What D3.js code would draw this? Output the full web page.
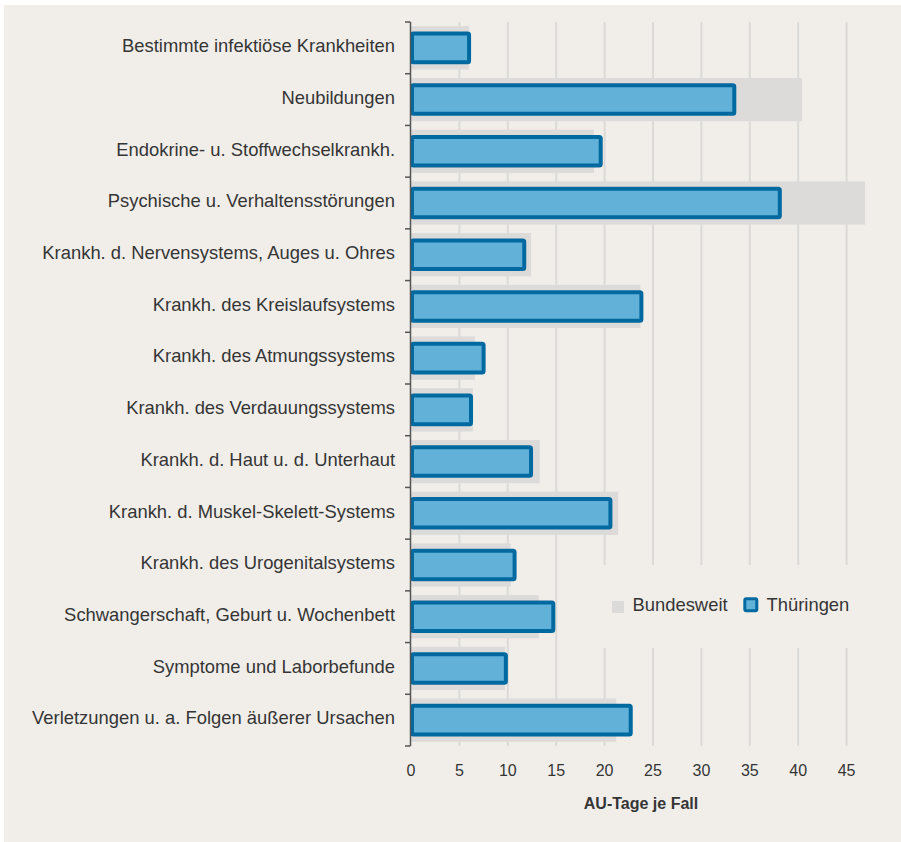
<!DOCTYPE html>
<html>
<head>
<meta charset="utf-8">
<script src="https://cdn.jsdelivr.net/npm/d3@7"></script>
<style>
    body { margin: 0; background: #ffffff; }
    text { font-family: "Liberation Sans", Arial, sans-serif; fill: #353535; }
</style>
</head>
<body>
<div id="graph1"></div>
<script>
// categories (top to bottom)
let categories = [
    "Bestimmte infektiöse Krankheiten",
    "Neubildungen",
    "Endokrine- u. Stoffwechselkrankh.",
    "Psychische u. Verhaltensstörungen",
    "Krankh. d. Nervensystems, Auges u. Ohres",
    "Krankh. des Kreislaufsystems",
    "Krankh. des Atmungssystems",
    "Krankh. des Verdauungssystems",
    "Krankh. d. Haut u. d. Unterhaut",
    "Krankh. d. Muskel-Skelett-Systems",
    "Krankh. des Urogenitalsystems",
    "Schwangerschaft, Geburt u. Wochenbett",
    "Symptome und Laborbefunde",
    "Verletzungen u. a. Folgen äußerer Ursachen"
];

// AU-Tage je Fall
let bundesweit = [6.0, 40.4, 18.9, 46.9, 12.4, 23.7, 6.6, 6.4, 13.3, 21.4, 10.3, 13.2, 9.7, 21.2];
let thueringen = [6.0, 33.4, 19.6, 38.1, 11.7, 23.8, 7.5, 6.2, 12.4, 20.6, 10.7, 14.7, 9.8, 22.7];

let xTicks = [0, 5, 10, 15, 20, 25, 30, 35, 40, 45];
let seriesNames = ["Bundesweit", "Thüringen"];

(function () {
    let width = 901,
        height = 842;

    let svg = d3.select("#graph1")
        .append("svg")
        .attr("width", width)
        .attr("height", height);

    // beige panel
    svg.append("rect")
        .attr("x", 4)
        .attr("y", 5)
        .attr("width", width - 4)
        .attr("height", height - 5)
        .attr("fill", "#f1eeea");

    // x linear scale
    let x = d3.scaleLinear()
        .domain([0, 45])
        .range([411, 846.6]);

    // y band scale
    let y = d3.scaleBand()
        .domain(categories)
        .range([22, 746]);

    let step = y.step();

    // vertical grid lines
    svg.append("g")
        .selectAll("line")
        .data(xTicks.filter(d => d > 0))
        .enter()
        .append("line")
        .attr("x1", d => x(d))
        .attr("x2", d => x(d))
        .attr("y1", 22)
        .attr("y2", 746)
        .attr("stroke", "#dcdad6")
        .attr("stroke-width", 2);

    // legend background hides the grid behind it
    svg.append("rect")
        .attr("x", 592)
        .attr("y", 565)
        .attr("width", 275)
        .attr("height", 83)
        .attr("fill", "#f1eeea");

    // Bundesweit bars (gray, behind)
    let data = categories.map((c, i) => ({ name: c, bund: bundesweit[i], th: thueringen[i] }));

    svg.append("g")
        .selectAll("rect")
        .data(data)
        .enter()
        .append("rect")
        .attr("x", x(0))
        .attr("y", d => y(d.name) + step * 0.081)
        .attr("width", d => x(d.bund) - x(0))
        .attr("height", step * 0.838)
        .attr("fill", "#dcdbd9");

    // Thüringen bars (blue, outlined)
    svg.append("g")
        .selectAll("rect")
        .data(data)
        .enter()
        .append("rect")
        .attr("x", x(0) + 1)
        .attr("y", d => y(d.name) + step * 0.5 - 14.3)
        .attr("width", d => x(d.th) - x(0) - 1)
        .attr("height", 28.6)
        .attr("rx", 1.5)
        .attr("fill", "#62b1d8")
        .attr("stroke", "#0069a0")
        .attr("stroke-width", 4);

    // y axis with ticks on the band edges
    let yAxis = svg.append("g");
    yAxis.append("line")
        .attr("x1", 410.5)
        .attr("x2", 410.5)
        .attr("y1", 22)
        .attr("y2", 746)
        .attr("stroke", "#555555")
        .attr("stroke-width", 1.5);

    yAxis.selectAll("line.tick")
        .data(d3.range(categories.length + 1))
        .enter()
        .append("line")
        .attr("class", "tick")
        .attr("x1", 405)
        .attr("x2", 410.5)
        .attr("y1", i => 22 + i * step)
        .attr("y2", i => 22 + i * step)
        .attr("stroke", "#555555")
        .attr("stroke-width", 1.5);

    // category labels
    yAxis.selectAll("text")
        .data(categories)
        .enter()
        .append("text")
        .attr("x", 395)
        .attr("y", d => y(d) + step / 2 + 4.3)
        .style("text-anchor", "end")
        .style("font-size", "18.4px")
        .text(d => d);

    // x tick labels
    svg.append("g")
        .selectAll("text")
        .data(xTicks)
        .enter()
        .append("text")
        .attr("x", d => x(d))
        .attr("y", 775.5)
        .style("text-anchor", "middle")
        .style("font-size", "16px")
        .text(d => d);

    // x-axis label
    svg.append("text")
        .attr("x", 641)
        .attr("y", 808.5)
        .style("text-anchor", "middle")
        .style("font-size", "16px")
        .style("font-weight", "bold")
        .text("AU-Tage je Fall");

    // legend
    let legend = svg.append("g");
    legend.append("rect")
        .attr("x", 612)
        .attr("y", 601)
        .attr("width", 12)
        .attr("height", 12)
        .attr("fill", "#dcdbd9");
    legend.append("text")
        .attr("x", 632.5)
        .attr("y", 611)
        .style("font-size", "18.4px")
        .text(seriesNames[0]);

    legend.append("rect")
        .attr("x", 744.8)
        .attr("y", 598.8)
        .attr("width", 12)
        .attr("height", 12)
        .attr("rx", 1.5)
        .attr("fill", "#62b1d8")
        .attr("stroke", "#0069a0")
        .attr("stroke-width", 3);
    legend.append("text")
        .attr("x", 766.5)
        .attr("y", 611)
        .style("font-size", "18.4px")
        .text(seriesNames[1]);
})();
</script>
</body>
</html>
